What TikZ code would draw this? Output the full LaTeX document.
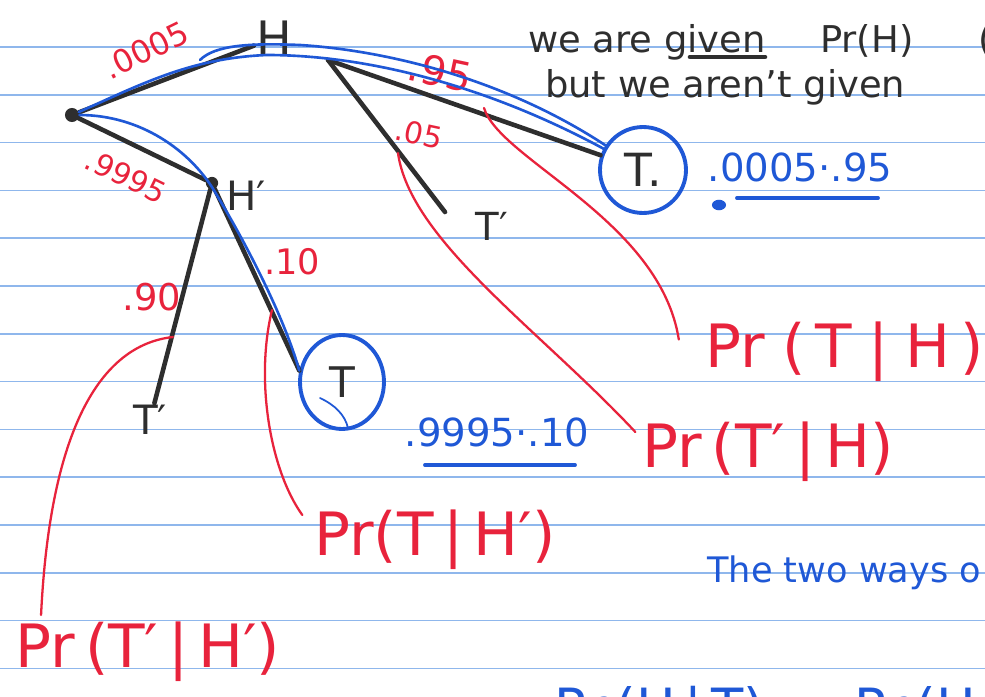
\documentclass[tikz,border=0pt]{standalone}
\usepackage{fontspec}
\setmainfont{DejaVu Sans}
\usepackage{tikz}
\usetikzlibrary{shapes.geometric}
\definecolor{inkblack}{HTML}{2E2E2E}
\definecolor{inkred}{HTML}{E8233C}
\definecolor{inkblue}{HTML}{1F58D6}
\definecolor{ruleblue}{HTML}{8FB7EC}

\begin{document}
\begin{tikzpicture}[x=0.02cm,y=-0.02cm,
  rule/.style={ruleblue,line width=0.9pt},
  ink/.style={inkblack,line width=2.6pt,line cap=round},
  hl/.style={inkblue,line width=1.5pt,line cap=round},
  nt/.style={inkred,line width=1.3pt,line cap=round},
  jn/.style={circle,fill=inkblack,inner sep=0pt,minimum size=8pt},
  lbl/.style={text=inkblack,inner sep=1pt},
  prb/.style={text=inkred,font=\fontsize{21}{23}\selectfont,inner sep=1pt},
  cond/.style={text=inkred,font=\fontsize{34}{38}\selectfont,inner sep=1pt},
  prod/.style={text=inkblue,font=\fontsize{22}{24}\selectfont,inner sep=1pt},
  ring/.style={draw=inkblue,line width=2.2pt,text=inkblack,inner sep=0pt}]
\useasboundingbox (0,0) rectangle (985,697);
\clip (0,0) rectangle (985,697);
\fill[white] (0,0) rectangle (985,697);
\foreach \k in {0,...,14}{\draw[rule] (0,{47.8*\k-0.8}) -- (985,{47.8*\k-0.8});}
% ---------- tree ----------
\node[jn] (root) at (72,115) {};
\node[lbl,font=\fontsize{27}{29}\selectfont] (H) at (274,38) {H};
\coordinate (hR) at (328,60);
\node[jn,minimum size=7pt] (hp) at (212,183) {};
\node[lbl,font=\fontsize{23}{25}\selectfont] (Hp) at (246,196) {H′};
\node[ring,circle,minimum size=1.72cm,font=\fontsize{26}{28}\selectfont] (T1) at (643,170) {T.};
\coordinate (t2) at (445,212);
\node[lbl,font=\fontsize{22}{24}\selectfont] (T2) at (492,226) {T′};
\node[lbl,font=\fontsize{23}{25}\selectfont] (T3) at (150,420) {T′};
\node[ring,ellipse,minimum width=1.68cm,minimum height=1.88cm,font=\fontsize{24}{26}\selectfont] (T4) at (342,382) {T\hspace{6pt}};
\draw[ink] (root) -- (H);
\draw[ink] (root) -- (hp);
\draw[ink] (hR) -- (T1);
\draw[ink] (hR) -- (t2);
\draw[ink] (hp) -- (T3);
\draw[ink] (hp) -- (T4.165);
% ---------- branch probabilities ----------
\node[prb,rotate=26,font=\fontsize{18}{20}\selectfont] (pH) at (146,50) {.0005};
\node[prb,rotate=-26,font=\fontsize{17}{19}\selectfont] (pHp) at (126,176) {.9995};
\node[prb,rotate=-12,font=\fontsize{23}{25}\selectfont] (pTH) at (440,72) {.95};
\node[prb,rotate=-12,font=\fontsize{17}{19}\selectfont] (pTpH) at (419,134) {.05};
\node[prb,font=\fontsize{20}{22}\selectfont] (pTHp) at (292,262) {.10};
\node[prb] (pTpHp) at (152,297) {.90};
% ---------- highlighted paths ----------
\coordinate (hlA) at (200,60);
\draw[hl] (root) .. controls (140,85) and (190,58) .. (267,55) .. controls (360,55) and (480,82) .. (T1);
\draw[hl] (hlA) .. controls (215,45) and (250,43) .. (300,45) .. controls (380,50) and (500,76) .. (T1);
\draw[hl] (root) .. controls (140,115) and (190,150) .. (215,192) .. controls (250,250) and (285,320) .. (T4.165);
\draw[hl,line width=1pt] (320,398) .. controls (335,405) and (345,415) .. (348,428);
\node[prod] (vH) at (800,167) {.0005·.95};
\node[prod] (vHp) at (497,432) {.9995·.10};
\draw[hl,line width=2.2pt] (737,198) -- (878,198);
\draw[hl,line width=2.2pt] (425,465) -- (575,465);
\fill[inkblue] (719,205) ellipse (4pt and 3pt);
% ---------- conditional labels ----------
\node[cond] (cTH) at (845,352) {Pr\hspace{0.28em}(\hspace{0.17em}T\hspace{0.28em}|\hspace{0.28em}H\hspace{0.17em})};
\node[cond] (cTpH) at (768,452) {Pr\,(T′\,|\,H)};
\node[cond] (cTHp) at (435,540) {Pr(T\,|\,H′)};
\node[cond] (cTpHp) at (148,652) {Pr\,(T′\,|\,H′)};
\coordinate (r1) at (484,108);
\coordinate (r2) at (398,153);
\coordinate (r3) at (272,310);
\coordinate (r4) at (173,337);
\draw[nt] (r1) .. controls (500,160) and (660,220) .. ([xshift=-0.5cm,yshift=0.25cm]cTH.west);
\draw[nt] (r2) .. controls (410,240) and (540,330) .. ([xshift=-0.1cm,yshift=0.4cm]cTpH.west);
\draw[nt] (r3) .. controls (255,380) and (270,470) .. ([xshift=-0.2cm,yshift=0.5cm]cTHp.west);
\draw[nt] (r4) .. controls (100,345) and (50,430) .. ([xshift=0.55cm,yshift=0.1cm]cTpHp.north west);
% ---------- notes ----------
\node[lbl,anchor=base west,font=\fontsize{21}{23}\selectfont] (w1) at (526,52) {we are given};
\draw[ink] (690,57) -- (765,57);
\node[lbl,anchor=base west,font=\fontsize{21}{23}\selectfont] (w2) at (818,52) {Pr(H)};
\node[lbl,anchor=base west,font=\fontsize{21}{23}\selectfont] (w3) at (976,52) {(};
\node[lbl,anchor=base west,font=\fontsize{21}{23}\selectfont] (w4) at (543,97) {but we aren't given};
\node[anchor=base west,inner sep=0pt,text=inkblue,font=\fontsize{20}{22}\selectfont] (w5) at (707,582) {The two ways o};
\node[anchor=base west,text=inkblue,font=\fontsize{30}{32}\selectfont] (w6) at (548,726) {Pr\,(H\,|\,T)};
\node[anchor=base west,text=inkblue,font=\fontsize{30}{32}\selectfont] (w7) at (848,726) {Pr\,(H\,∩};
\end{tikzpicture}
\end{document}
